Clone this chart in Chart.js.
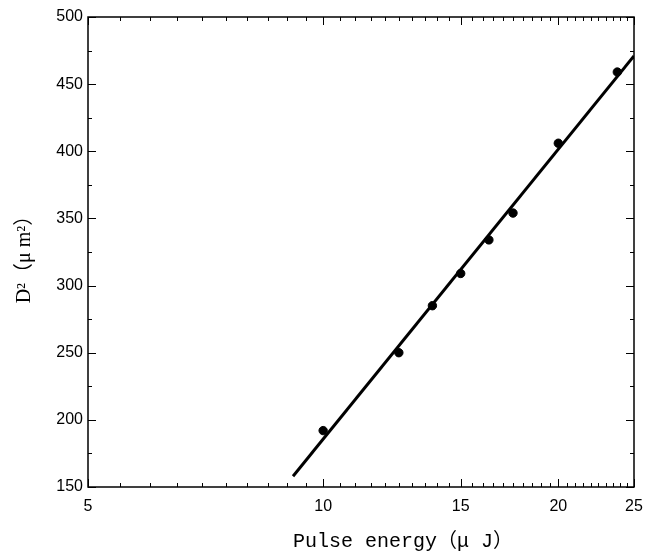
<!DOCTYPE html>
<html>
<head>
<meta charset="utf-8">
<script src="https://cdn.jsdelivr.net/npm/chart.js@4"></script>
<style>
  body { margin: 0; background: #fff; }
  canvas { display: block; }
</style>
</head>
<body>
<canvas id="grafica" width="656" height="555"></canvas>
<script>
// measured points
var energia = [10.0, 12.5, 13.8, 15.0, 16.3, 17.5, 20.0, 23.8];
var diametro2 = [192, 250, 285, 309, 334, 354, 406, 459];

// ends of the fitted line
var ajusteX = [9.15, 25];
var ajusteY = [158, 471];

var ticksX = [5, 10, 15, 20, 25];
var ticksY = [150, 200, 250, 300, 350, 400, 450, 500];

var puntos = {
    label: 'Puntos',
    data: energia.map(function (x, i) { return { x: x, y: diametro2[i] }; }),
    backgroundColor: '#000',
    borderColor: '#000',
    pointRadius: 4.2,
    pointHoverRadius: 4.2,
    showLine: false
};

var recta = {
    label: 'Ajuste',
    data: ajusteX.map(function (x, i) { return { x: x, y: ajusteY[i] }; }),
    borderColor: '#000',
    backgroundColor: '#000',
    borderWidth: 3,
    pointRadius: 0,
    showLine: true
};

// frame with inward ticks on all four sides
var marco = {
    id: 'marco',
    afterDatasetsDraw: function (chart) {
        var ctx = chart.ctx;
        var a = chart.chartArea;
        var sx = chart.scales.x, sy = chart.scales.y;
        ctx.save();
        ctx.strokeStyle = '#000';
        ctx.lineWidth = 1.5;
        ctx.strokeRect(a.left, a.top, a.right - a.left, a.bottom - a.top);
        ctx.lineWidth = 1;
        function tickX(v, len) {
            var p = Math.round(sx.getPixelForValue(v)) + 0.5;
            ctx.beginPath();
            ctx.moveTo(p, a.bottom); ctx.lineTo(p, a.bottom - len);
            ctx.moveTo(p, a.top); ctx.lineTo(p, a.top + len);
            ctx.stroke();
        }
        function tickY(v, len) {
            var p = Math.round(sy.getPixelForValue(v)) + 0.5;
            ctx.beginPath();
            ctx.moveTo(a.left, p); ctx.lineTo(a.left + len, p);
            ctx.moveTo(a.right, p); ctx.lineTo(a.right - len, p);
            ctx.stroke();
        }
        for (var v = 5.5; v < 25; v += 0.5) {
            if (ticksX.indexOf(v) < 0) tickX(v, 4);
        }
        ticksX.forEach(function (v) { tickX(v, 8); });
        for (var w = 175; w < 500; w += 50) tickY(w, 4);
        ticksY.forEach(function (v) { tickY(v, 8); });
        ctx.restore();
    }
};

var config = {
    type: 'scatter',
    data: { datasets: [recta, puntos] },
    options: {
        responsive: false,
        animation: false,
        events: [],
        layout: { padding: { left: 0, top: 17, right: 22, bottom: 0 } },
        plugins: { legend: { display: false }, tooltip: { enabled: false } },
        scales: {
            x: {
                type: 'logarithmic',
                min: 5,
                max: 25,
                afterBuildTicks: function (s) {
                    s.ticks = ticksX.map(function (v) { return { value: v }; });
                },
                afterFit: function (s) { s.height = 68; },
                grid: { display: false, drawTicks: false },
                border: { display: false },
                ticks: {
                    color: '#000',
                    padding: 10,
                    maxRotation: 0,
                    font: { family: 'Liberation Sans', size: 16 },
                    callback: function (v) { return String(v); }
                },
                title: {
                    display: true,
                    text: '       Pulse energy（μ J）',
                    color: '#000',
                    padding: { top: 0, bottom: 1 },
                    font: { family: "'Liberation Mono', 'Noto Sans CJK SC'", size: 20 }
                }
            },
            y: {
                min: 150,
                max: 500,
                afterBuildTicks: function (s) {
                    s.ticks = ticksY.map(function (v) { return { value: v }; });
                },
                afterFit: function (s) { s.width = 88; },
                grid: { display: false, drawTicks: false },
                border: { display: false },
                ticks: {
                    color: '#000',
                    padding: 5,
                    font: { family: 'Liberation Sans', size: 16 }
                },
                title: {
                    display: true,
                    text: 'D²（μ m²） ',
                    color: '#000',
                    padding: { top: 13, bottom: 0 },
                    font: { family: "'Liberation Serif', 'Noto Sans CJK SC'", size: 20 }
                }
            }
        }
    },
    plugins: [marco]
};

var grafica = new Chart(document.getElementById('grafica'), config);
</script>
</body>
</html>
